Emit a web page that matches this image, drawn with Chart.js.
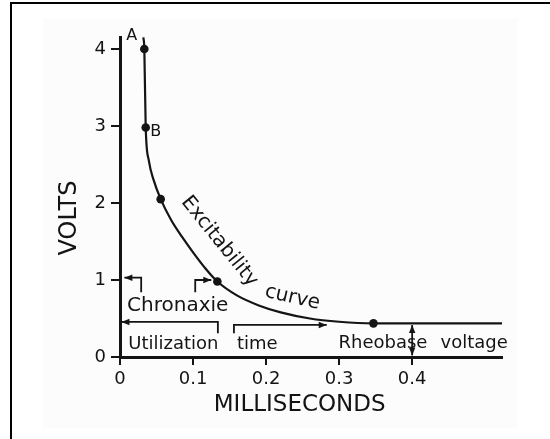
<!DOCTYPE html>
<html>
<head>
<meta charset="utf-8">
<title>Excitability curve</title>
<script src="https://cdn.jsdelivr.net/npm/chart.js@4.4.1/dist/chart.umd.min.js"></script>
<style>
  html, body { margin: 0; padding: 0; background: #fff; }
  #wrap { position: relative; width: 550px; height: 439px; }
</style>
</head>
<body>
<div id="wrap"><canvas id="curveChart" width="550" height="439"></canvas></div>
<script>
// Strength-duration curve: pulse duration (ms) vs. threshold voltage
const curveMs    = [0.032, 0.0333, 0.0352, 0.0395, 0.046, 0.0557, 0.07, 0.085, 0.1, 0.117, 0.1333, 0.16, 0.19, 0.22, 0.26, 0.30, 0.347, 0.40, 0.523];
const curveVolts = [4.15, 4.0, 2.98, 2.55, 2.3, 2.05, 1.78, 1.56, 1.36, 1.15, 0.98, 0.80, 0.67, 0.58, 0.50, 0.458, 0.437, 0.437, 0.437];

// Measured points marked on the curve
const dotMs    = [0.0333, 0.0352, 0.0557, 0.1333, 0.347];
const dotVolts = [4.0, 2.98, 2.05, 0.98, 0.437];

// Axis ticks
const xTicks      = [0, 0.1, 0.2, 0.3, 0.4];
const xTickLabels = ['0', '0.1', '0.2', '0.3', '0.4'];
const yTicks      = [0, 1, 2, 3, 4];
const yTickLabels = ['0', '1', '2', '3', '4'];

const INK = '#141414';
const FONT = "'DejaVu Sans', 'Liberation Sans', sans-serif";

function pairs(xs, ys) {
    return xs.map(function(v, i) { return { x: v, y: ys[i] }; });
}

// Draw an open polyline (pixel points) and optional arrow heads at its ends
function polyline(c, pts, headStart, headEnd) {
    c.beginPath();
    c.moveTo(pts[0][0], pts[0][1]);
    for (let i = 1; i < pts.length; i++) c.lineTo(pts[i][0], pts[i][1]);
    c.stroke();
    if (headEnd) arrowHead(c, pts[pts.length - 2], pts[pts.length - 1]);
    if (headStart) arrowHead(c, pts[1], pts[0]);
}

function arrowHead(c, from, to) {
    const a = Math.atan2(to[1] - from[1], to[0] - from[0]);
    const len = 8, w = 3.2;
    c.beginPath();
    c.moveTo(to[0], to[1]);
    c.lineTo(to[0] - len * Math.cos(a) + w * Math.sin(a), to[1] - len * Math.sin(a) - w * Math.cos(a));
    c.lineTo(to[0] - len * Math.cos(a) - w * Math.sin(a), to[1] - len * Math.sin(a) + w * Math.cos(a));
    c.closePath();
    c.fill();
}

function text(c, str, x, y, size, angle) {
    c.save();
    c.translate(x, y);
    if (angle) c.rotate(angle * Math.PI / 180);
    c.font = size + 'px ' + FONT;
    c.textAlign = 'center';
    c.textBaseline = 'middle';
    c.fillText(str, 0, 0);
    c.restore();
}

// Paper, frame and all the hand-lettered annotations
const annotations = {
    id: 'annotations',
    beforeDraw(chart) {
        const c = chart.ctx;
        c.save();
        c.fillStyle = '#ffffff';
        c.fillRect(0, 0, chart.width, chart.height);
        c.fillStyle = '#fcfcfc';
        c.fillRect(43, 18, 475, 410);
        c.fillStyle = '#000';
        c.fillRect(10, 2, 540, 2);
        c.fillRect(10, 2, 2, 437);
        c.restore();
    },
    afterDatasetsDraw(chart) {
        const c = chart.ctx;
        const xs = chart.scales.x, ys = chart.scales.y;
        const px = function(v) { return xs.getPixelForValue(v); };
        const py = function(v) { return ys.getPixelForValue(v); };
        const P = function(a, b) { return [px(a), py(b)]; };
        const area = chart.chartArea;

        c.save();
        c.fillStyle = INK;
        c.strokeStyle = INK;
        c.lineWidth = 1.8;
        c.lineJoin = 'miter';

        // point letters
        text(c, 'A', px(0.016), py(4.17), 16);
        text(c, 'B', px(0.049), py(2.92), 16);

        // curve name written along the slope
        text(c, 'Excitability', px(0.136), py(1.5), 20, 51);
        text(c, 'curve', px(0.236), py(0.77), 20, 13);

        // chronaxie brackets
        polyline(c, [P(0.029, 0.84), P(0.029, 1.03), P(0.006, 1.03)], false, true);
        polyline(c, [P(0.103, 0.84), P(0.103, 1.0), P(0.125, 1.0)], false, true);
        text(c, 'Chronaxie', px(0.079), py(0.66), 20);

        // utilization time
        polyline(c, [P(0.134, 0.31), P(0.134, 0.455), P(0.002, 0.455)], false, true);
        polyline(c, [P(0.156, 0.31), P(0.156, 0.416), P(0.283, 0.416)], false, true);
        text(c, 'Utilization', px(0.073), py(0.17), 18);
        text(c, 'time', px(0.188), py(0.17), 18);

        // rheobase
        text(c, 'Rheobase', px(0.36), py(0.18), 18);
        text(c, 'voltage', px(0.485), py(0.18), 18);
        polyline(c, [P(0.4, 0.02), P(0.4, 0.415)], true, true);

        // axis titles
        text(c, 'VOLTS', area.left - 50, (py(0) + py(4)) / 2 + 15, 24, -90);
        text(c, 'MILLISECONDS', px(0.246), area.bottom + 48, 23);
        c.restore();
    }
};

new Chart(document.getElementById('curveChart'), {
    type: 'scatter',
    data: {
        datasets: [
            {
                label: 'Excitability curve',
                data: pairs(curveMs, curveVolts),
                showLine: true,
                borderColor: INK,
                borderWidth: 2.2,
                pointRadius: 0,
                cubicInterpolationMode: 'monotone'
            },
            {
                label: 'Measured',
                data: pairs(dotMs, dotVolts),
                showLine: false,
                pointRadius: 4.3,
                backgroundColor: INK,
                borderColor: INK,
                borderWidth: 0
            }
        ]
    },
    options: {
        responsive: false,
        animation: false,
        devicePixelRatio: 1,
        layout: { padding: { top: 37, right: 48, left: 0, bottom: 0 }, autoPadding: false },
        plugins: { legend: { display: false }, tooltip: { enabled: false } },
        scales: {
            x: {
                type: 'linear',
                min: 0,
                max: 0.523,
                afterFit: function(scale) { scale.height = 82; },
                afterBuildTicks: function(scale) {
                    scale.ticks = xTicks.map(function(v) { return { value: v }; });
                },
                ticks: {
                    padding: 4,
                    color: INK,
                    font: { family: FONT, size: 18 },
                    callback: function(value, i) { return xTickLabels[i]; }
                },
                grid: { drawOnChartArea: false, drawTicks: true, tickLength: 8, color: INK, lineWidth: 2 },
                border: { display: true, color: INK, width: 3 }
            },
            y: {
                type: 'linear',
                min: 0,
                max: 4.156,
                afterFit: function(scale) { scale.width = 120; },
                afterBuildTicks: function(scale) {
                    scale.ticks = yTicks.map(function(v) { return { value: v }; });
                },
                ticks: {
                    padding: 5,
                    color: INK,
                    font: { family: FONT, size: 18 },
                    callback: function(value, i) { return yTickLabels[i]; }
                },
                grid: { drawOnChartArea: false, drawTicks: true, tickLength: 9, color: INK, lineWidth: 2 },
                border: { display: true, color: INK, width: 3 }
            }
        }
    },
    plugins: [annotations]
});
</script>
</body>
</html>
